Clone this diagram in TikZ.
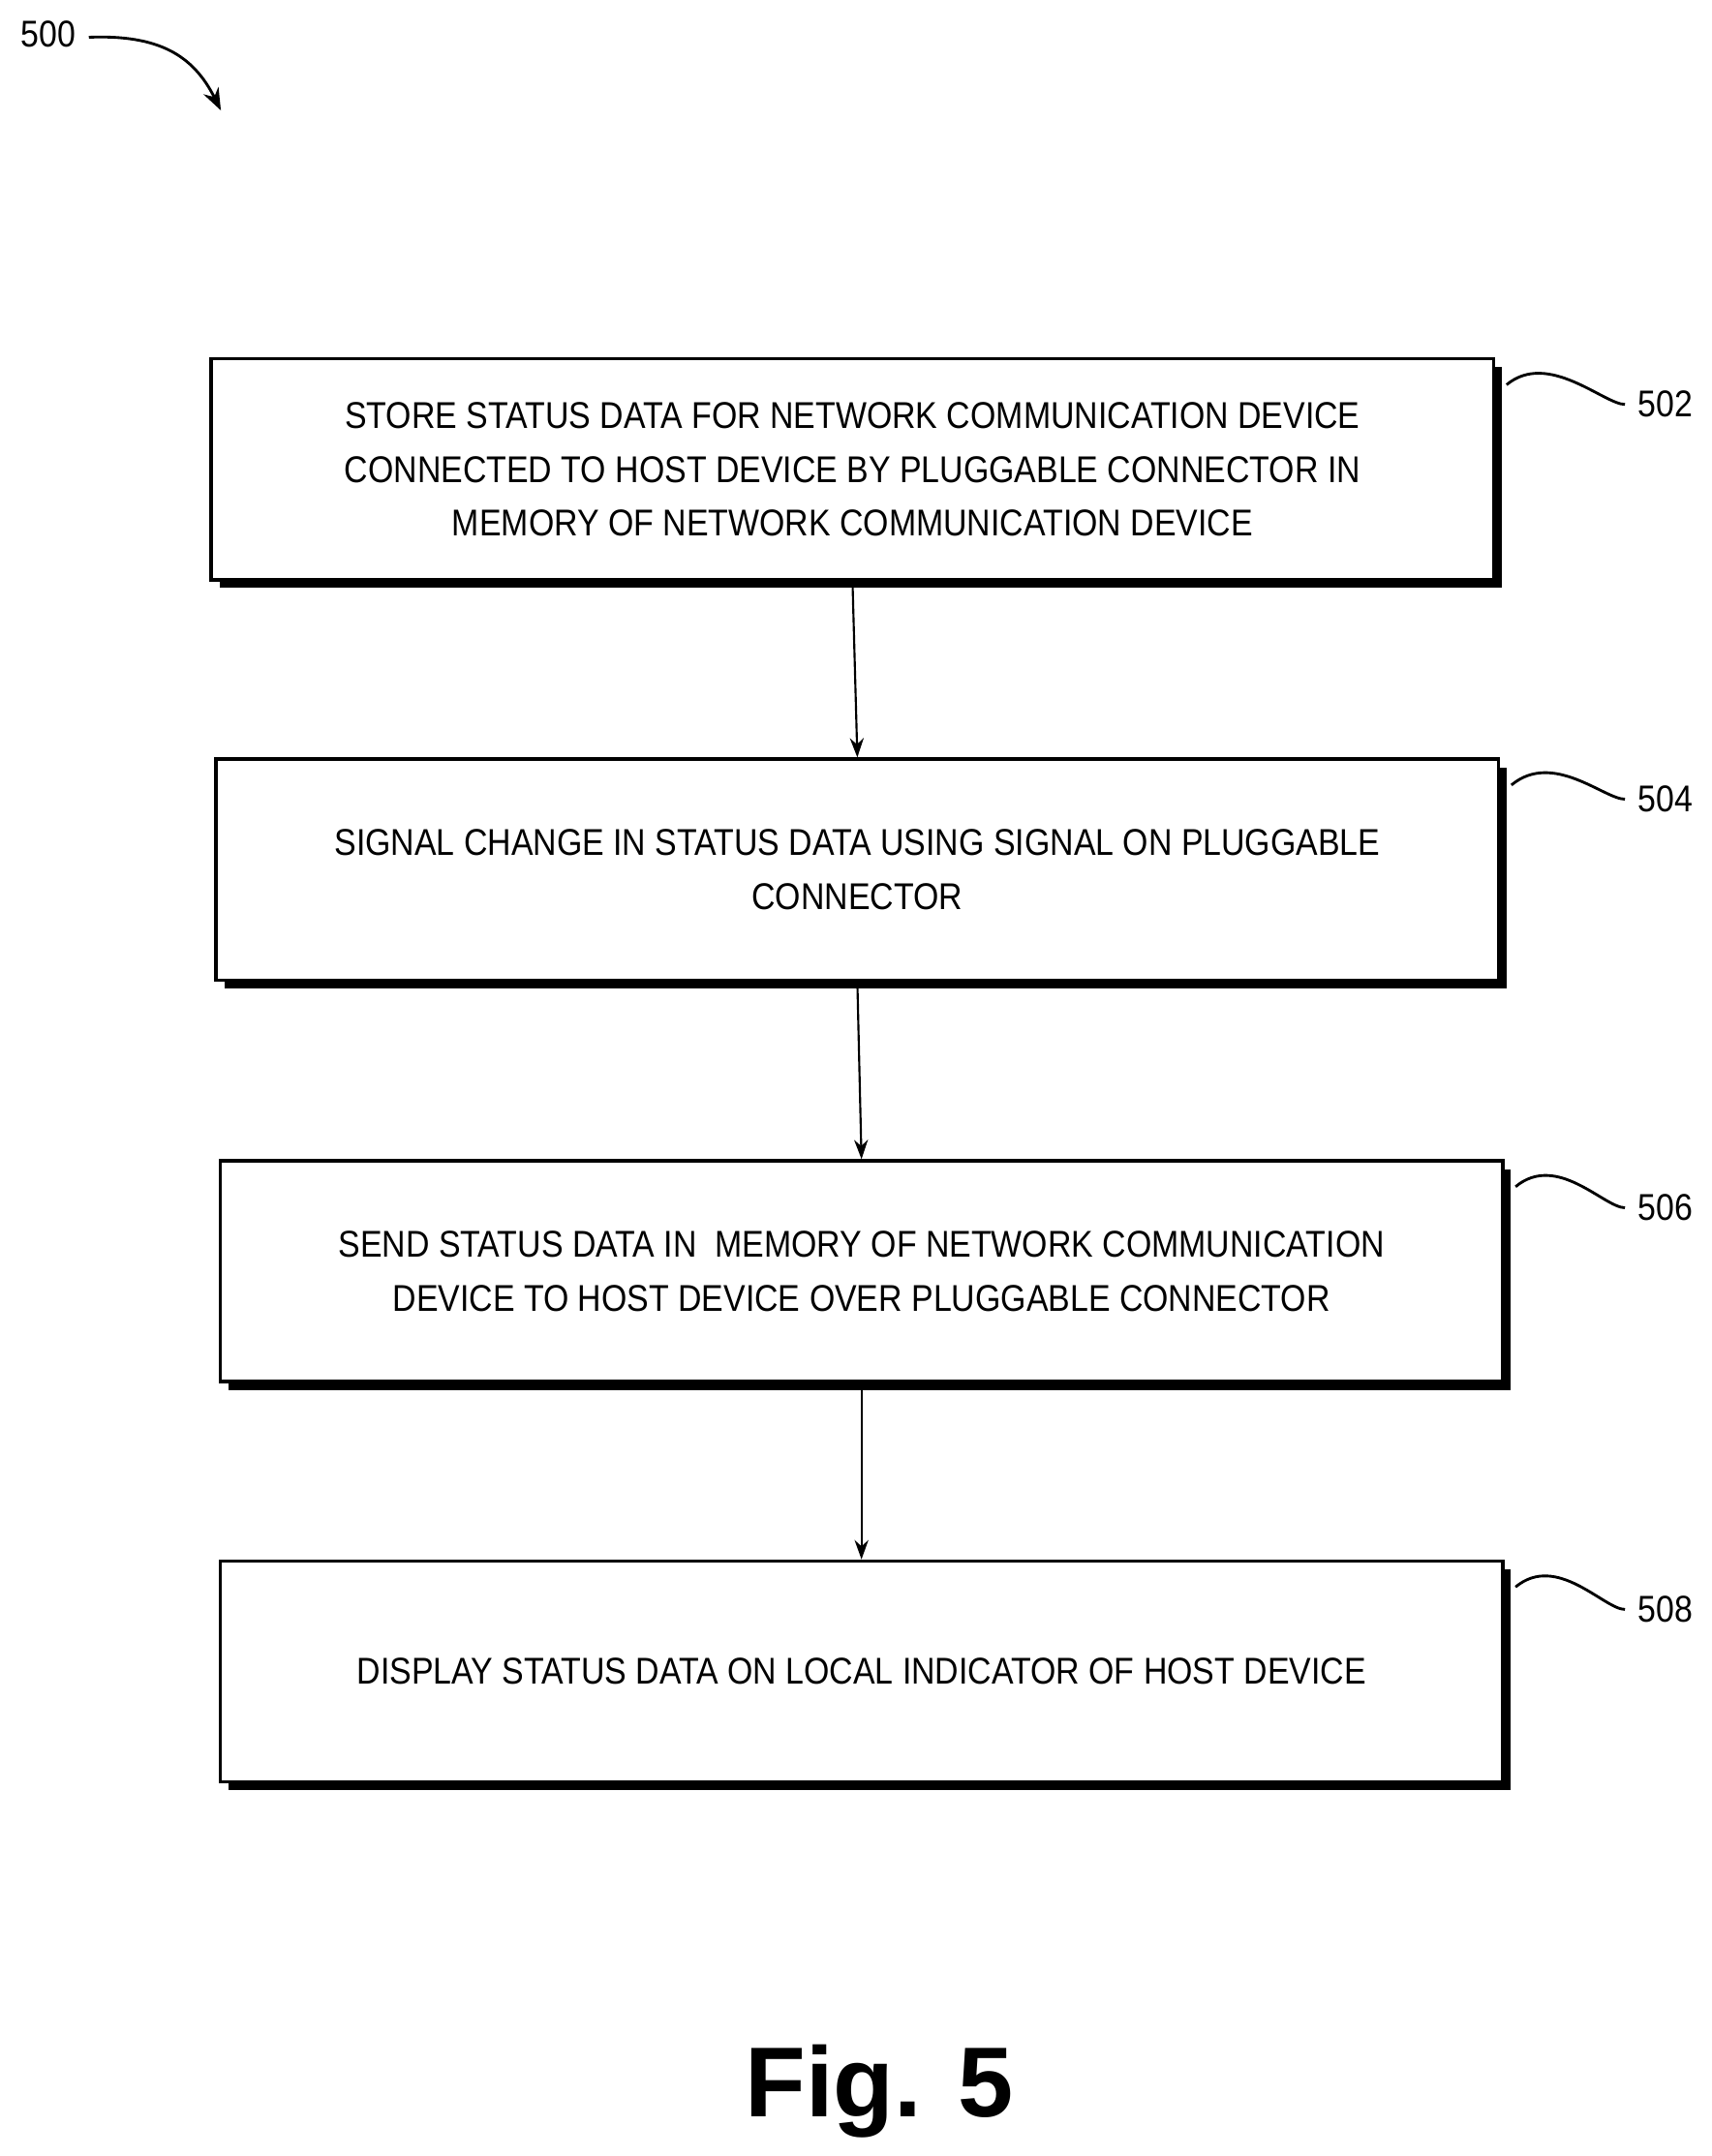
\documentclass[tikz,border=0pt]{standalone}
\usepackage{fontspec}
\setmainfont{Liberation Sans}[FakeStretch=0.88]
\newfontfamily\figfont{Liberation Sans}
\usetikzlibrary{arrows.meta}
\begin{document}
\begin{tikzpicture}[x=1pt,y=-1pt,
  box/.style={draw,line width=2.5pt,minimum width=929pt,minimum height=160pt,align=center,font=\fontsize{27}{39}\selectfont,
    fill=white,inner sep=0pt},
  shadow/.style={fill=black,minimum width=929pt,minimum height=160pt,inner sep=0pt},
  lbl/.style={font=\fontsize{27}{30}\selectfont},
  arr/.style={line width=1.5pt,-{Stealth[length=14pt,width=10pt]}},
  lead/.style={line width=2pt}]
\useasboundingbox (0,0) rectangle (1240,1562);
\node[shadow] at (623.5,346) {};
\node[box] (b1) at (617.5,340) {STORE STATUS DATA FOR NETWORK COMMUNICATION DEVICE\\CONNECTED TO HOST DEVICE BY PLUGGABLE CONNECTOR IN\\MEMORY OF NETWORK COMMUNICATION DEVICE};
\node[shadow] at (627,636) {};
\node[box] (b2) at (621,630) {SIGNAL CHANGE IN STATUS DATA USING SIGNAL ON PLUGGABLE\\CONNECTOR};
\node[shadow] at (630,927) {};
\node[box] (b3) at (624,921) {SEND STATUS DATA IN\ \ MEMORY OF NETWORK COMMUNICATION\\DEVICE TO HOST DEVICE OVER PLUGGABLE CONNECTOR};
\node[shadow] at (630,1217) {};
\node[box] (b4) at (624,1211) {DISPLAY STATUS DATA ON LOCAL INDICATOR OF HOST DEVICE};
\draw[arr] (b1.south) -- (b2.north);
\draw[arr] (b2.south) -- (b3.north);
\draw[arr] (b3.south) -- (b4.north);
\foreach \b/\t/\y in {b1/502/293,b2/504/579,b3/506/875,b4/508/1166}{
  \node[lbl,anchor=west] (l\t) at (1183,\y) {\t};
  \coordinate (s\t) at ([yshift=-20pt]\b.north east);
  \draw[lead] ([xshift=8pt]s\t) .. controls +(30,-25) and +(-15,0) .. ([xshift=-6pt]l\t.west);
}
\node[lbl] (l500) at (35,25) {500};
\coordinate (a500) at (160,80);
\draw[line width=2pt,-{Stealth[length=16pt,width=12pt]}] (l500.east) ++(6,2) coordinate (c500) .. controls (115,25) and (140,40) .. (a500);
\node[font=\figfont\fontsize{72}{80}\selectfont\bfseries] (fig) at (637,1515) {Fig. 5};
\end{tikzpicture}
\end{document}
